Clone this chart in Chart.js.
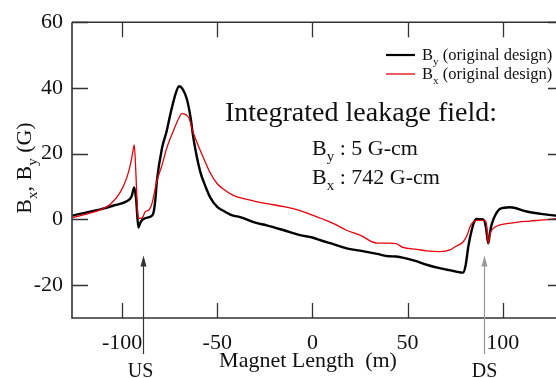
<!DOCTYPE html>
<html>
<head>
<meta charset="utf-8">
<script src="https://cdn.jsdelivr.net/npm/chart.js@4"></script>
<style>
  html, body { margin: 0; padding: 0; background: #fff; overflow: hidden; }
  #wrap { width: 556px; height: 378px; position: relative; }
</style>
</head>
<body>
<div id="wrap"><canvas id="chart" width="556" height="378"></canvas></div>
<script>
// By (preto) e Bx (vermelho)
const byX = [-126, -118, -110, -104, -97.5, -95, -93.6, -92.6, -91.4, -90.5, -89.6, -87, -85.2, -83.5, -82.5, -81.7, -79, -76.5, -74.7, -72, -70, -68, -66, -64, -62.5, -59, -56, -53.7, -50, -47, -42, -38, -30, -24, -15, -6.5, 0, 5, 11, 18, 25, 34, 40, 44, 48, 55, 60, 68, 75, 79.1, 80.5, 82, 83.7, 85, 86.3, 89.8, 91.2, 92.4, 93.3, 94.2, 96, 98.6, 103.8, 112.6, 120, 128];
const byY = [1.2, 2.2, 3.3, 4.3, 5.5, 7, 9.7, 6, -2.5, -1.2, -0.3, 0.5, 0.8, 2.0, 6, 11.7, 21.7, 27, 31.8, 38, 40.5, 39.5, 36.7, 31, 24.7, 14.7, 9.8, 6.7, 3.8, 2.7, 1.2, 0.7, -1, -1.8, -3.3, -4.8, -5.5, -6.5, -7.5, -8.8, -9.5, -10.5, -11.2, -11.3, -11.7, -12.8, -13.8, -15, -15.8, -16.2, -14, -8, -3.3, -0.8, 0.1, 0, -2.5, -7.3, -4, -1.5, 1.2, 3.2, 3.7, 2.4, 1.7, 1.1];

const bxX = [-126, -118, -111.5, -106, -101, -97.5, -95.5, -94.2, -93.6, -92.8, -91.9, -91.4, -90.5, -89, -87.9, -86, -84.3, -81.7, -79, -76.5, -73, -70, -68.6, -65, -62.5, -60, -57.2, -54, -50.2, -47, -41.6, -35, -24, -15, -6.5, 0, 5, 10.9, 18, 25, 34, 40, 44, 47.6, 55, 60, 67, 72.3, 75, 79.3, 81.5, 82.8, 84.5, 86.3, 90.7, 91.6, 92.4, 93.3, 94.2, 96, 98.6, 102.1, 108, 114.3, 124.8, 128];
const bxY = [0.6, 1.7, 2.9, 4.7, 8.2, 12.7, 17, 21, 22.7, 15, 3, 0.5, 0.3, 0.8, 2.3, 2.8, 4.8, 11.7, 16.5, 21.7, 27, 31, 32.2, 31, 26.2, 22.5, 18.7, 14.5, 11, 9.3, 7.3, 6.2, 4.8, 3.9, 2.7, 1.3, 0.2, -1.2, -3.3, -4.8, -7.2, -7.2, -7.4, -8.5, -9.1, -9.6, -9.8, -9.3, -8.3, -6.8, -4.5, -2.3, -0.8, -0.3, -0.3, -2, -7.3, -4.5, -3.3, -2.3, -1.7, -1.3, -0.8, -0.5, 0, 0.2];

const xTicks = [-100, -50, 0, 50, 100];
const yTicks = [-20, 0, 20, 40, 60];

// marcadores US / DS
const markerLabels = ["US", "DS"];
const markerX = [-89, 90.2];

const serif = "'Liberation Serif', 'Times New Roman', serif";

function toPoints(xs, ys) {
  return xs.map((x, i) => ({ x: x, y: ys[i] }));
}

// texto com subscritos: parts = [[texto, sub?], ...]
function richWidth(ctx, parts, size) {
  let w = 0;
  parts.forEach(([t, sub]) => {
    ctx.font = `${sub ? size * 0.68 : size}px ${serif}`;
    w += ctx.measureText(t).width;
  });
  return w;
}
function drawRich(ctx, parts, x, y, size) {
  let cx = x;
  parts.forEach(([t, sub]) => {
    ctx.font = `${sub ? size * 0.68 : size}px ${serif}`;
    ctx.fillText(t, cx, sub ? y + size * 0.28 : y);
    cx += ctx.measureText(t).width;
  });
}

const decoPlugin = {
  id: "deco",
  afterDraw(chart) {
    const ctx = chart.ctx;
    const a = chart.chartArea;
    const xs = chart.scales.x;
    const ys = chart.scales.y;
    ctx.save();

    // moldura
    ctx.strokeStyle = "#333";
    ctx.lineWidth = 1.6;
    ctx.beginPath();
    ctx.moveTo(a.left, a.top);
    ctx.lineTo(a.right, a.top);
    ctx.moveTo(a.left, a.top);
    ctx.lineTo(a.left, a.bottom);
    ctx.lineTo(a.right, a.bottom);
    ctx.stroke();

    // ticks para dentro
    ctx.lineWidth = 1.3;
    ctx.beginPath();
    xTicks.forEach((v) => {
      const px = Math.round(xs.getPixelForValue(v)) + 0.5;
      ctx.moveTo(px, a.bottom);
      ctx.lineTo(px, a.bottom - 15);
      ctx.moveTo(px, a.top);
      ctx.lineTo(px, a.top + 15);
    });
    yTicks.forEach((v) => {
      const py = Math.round(ys.getPixelForValue(v)) + 0.5;
      ctx.moveTo(a.left, py);
      ctx.lineTo(a.left + 16, py);
      ctx.moveTo(a.right, py);
      ctx.lineTo(a.right - 8, py);
    });
    ctx.stroke();

    // setas US / DS
    markerX.forEach((v, i) => {
      const px = Math.round(xs.getPixelForValue(v)) + 0.5;
      const tip = ys.getPixelForValue(-11);
      const col = i === 0 ? "#333" : "#999";
      ctx.strokeStyle = col;
      ctx.fillStyle = col;
      ctx.lineWidth = 1.2;
      ctx.beginPath();
      ctx.moveTo(px, tip + 8);
      ctx.lineTo(px, 354);
      ctx.stroke();
      ctx.beginPath();
      ctx.moveTo(px, tip);
      ctx.lineTo(px - 3, tip + 11);
      ctx.lineTo(px + 3, tip + 11);
      ctx.closePath();
      ctx.fill();
      ctx.fillStyle = "#111";
      ctx.font = `20px ${serif}`;
      ctx.textAlign = "center";
      ctx.textBaseline = "alphabetic";
      ctx.fillText(markerLabels[i], px - (i === 0 ? 3 : 0), 377);
    });

    // título do eixo x
    ctx.fillStyle = "#111";
    ctx.textAlign = "center";
    ctx.font = `22px ${serif}`;
    ctx.fillText("Magnet Length  (m)", 308, 367);

    // título do eixo y (rotacionado)
    ctx.textAlign = "left";
    const yTitle = [["B", 0], ["x", 1], [", B", 0], ["y", 1], [" (G)", 0]];
    const tw = richWidth(ctx, yTitle, 22);
    ctx.save();
    ctx.translate(31, 168);
    ctx.rotate(-Math.PI / 2);
    drawRich(ctx, yTitle, -tw / 2, 0, 22);
    ctx.restore();

    // anotação
    ctx.font = `28px ${serif}`;
    ctx.fillText("Integrated leakage field:", 225, 121);
    drawRich(ctx, [["B", 0], ["y", 1], [" : 5 G-cm", 0]], 312, 155, 22);
    drawRich(ctx, [["B", 0], ["x", 1], [" : 742 G-cm", 0]], 312, 184, 22);

    // legenda
    const leg = [
      { parts: [["B", 0], ["y", 1], [" (original design)", 0]], color: "#000", w: 2.2, y: 55 },
      { parts: [["B", 0], ["x", 1], [" (original design)", 0]], color: "#e8000b", w: 1.3, y: 74 },
    ];
    leg.forEach((l) => {
      ctx.strokeStyle = l.color;
      ctx.lineWidth = l.w;
      ctx.beginPath();
      ctx.moveTo(386, l.y);
      ctx.lineTo(415, l.y);
      ctx.stroke();
      ctx.fillStyle = "#111";
      drawRich(ctx, l.parts, 422, l.y + 5, 16.5);
    });

    ctx.restore();
  },
};

const ctx = document.getElementById("chart").getContext("2d");
new Chart(ctx, {
  type: "line",
  data: {
    datasets: [
      {
        label: "Bx (original design)",
        data: toPoints(bxX, bxY),
        borderColor: "#e8000b",
        borderWidth: 1.3,
        pointRadius: 0,
        cubicInterpolationMode: "monotone",
      },
      {
        label: "By (original design)",
        data: toPoints(byX, byY),
        borderColor: "#000",
        borderWidth: 2.4,
        pointRadius: 0,
        cubicInterpolationMode: "monotone",
      },
    ],
  },
  options: {
    responsive: false,
    animation: false,
    layout: { padding: { top: 19, right: 0, left: 0, bottom: 0 } },
    plugins: {
      legend: { display: false },
      tooltip: { enabled: false },
    },
    scales: {
      x: {
        type: "linear",
        min: -126.3,
        max: 128,
        grid: { display: false, drawTicks: false },
        border: { display: false },
        afterBuildTicks: (s) => { s.ticks = xTicks.map((v) => ({ value: v })); },
        afterFit: (s) => { s.height = 60; },
        ticks: {
          padding: 12,
          maxRotation: 0,
          color: "#111",
          font: { family: serif, size: 22 },
        },
      },
      y: {
        min: -30,
        max: 60,
        grid: { display: false, drawTicks: false },
        border: { display: false },
        afterBuildTicks: (s) => { s.ticks = yTicks.map((v) => ({ value: v })); },
        afterFit: (s) => { s.width = 72; },
        ticks: {
          padding: 9,
          color: "#111",
          font: { family: serif, size: 22 },
        },
      },
    },
  },
  plugins: [decoPlugin],
});
</script>
</body>
</html>
